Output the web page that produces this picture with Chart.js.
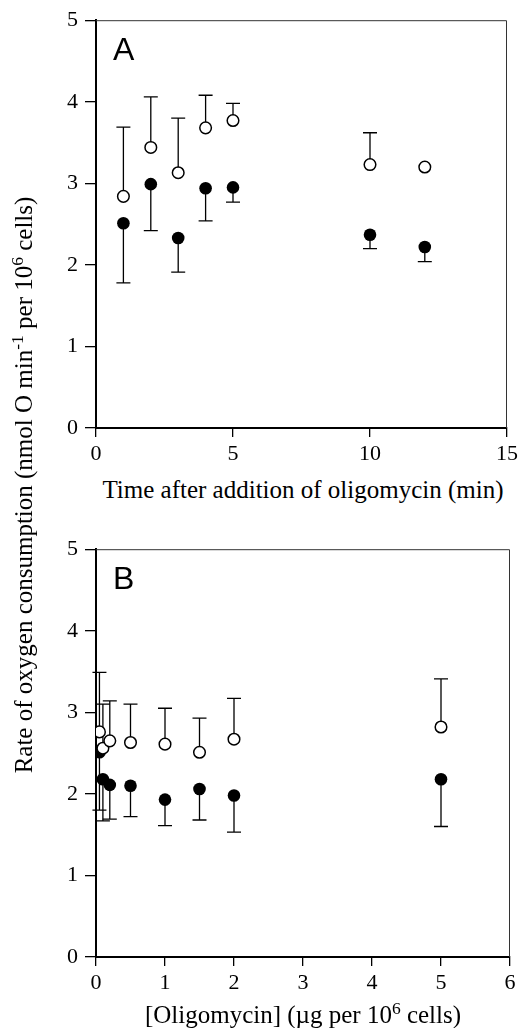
<!DOCTYPE html>
<html>
<head>
<meta charset="utf-8">
<script src="https://cdn.jsdelivr.net/npm/chart.js@4.4.1/dist/chart.umd.min.js"></script>
<style>
  body { margin: 0; background: #fff; }
  #fig { position: relative; width: 522px; height: 1028px; overflow: hidden; font-family: 'Liberation Serif', 'Times New Roman', serif; }
  .panel { position: absolute; left: 0; width: 522px; height: 470px; }
  .xtitle { position: absolute; left: 96px; width: 414px; text-align: center; font-size: 25px; line-height: 28px; white-space: nowrap; }
  .ytitle { position: absolute; left: -276px; top: 471px; width: 600px; height: 28px; line-height: 28px; text-align: center; font-size: 25px; white-space: nowrap; transform: rotate(-90deg); }
  sup { font-size: 0.7em; line-height: 0; }
</style>
</head>
<body>
<div id="fig">
  <div class="panel" style="top:0"><canvas id="chartA"></canvas></div>
  <div class="panel" style="top:529px"><canvas id="chartB"></canvas></div>
  <div class="xtitle" style="top:476px">Time after addition of oligomycin (min)</div>
  <div class="xtitle" style="top:1001px">[Oligomycin] (&micro;g per 10<sup>6</sup> cells)</div>
  <div class="ytitle">Rate of oxygen consumption (nmol O min<sup>-1</sup> per 10<sup>6</sup> cells)</div>
</div>
<script>
// Panel A: tiempo tras añadir oligomicina (min)
const tiempoA = [1, 2, 3, 4, 5, 10, 12];
const abiertosA = [2.84, 3.44, 3.13, 3.68, 3.77, 3.23, 3.20];
const abiertosA_sup = [3.69, 4.06, 3.80, 4.08, 3.98, 3.62, null];
const llenosA = [2.51, 2.99, 2.33, 2.94, 2.95, 2.37, 2.22];
const llenosA_inf = [1.78, 2.42, 1.91, 2.54, 2.77, 2.20, 2.04];
const ticksXA = [0, 5, 10, 15];

// Panel B: dosis de oligomicina (ug por 10^6 celulas)
const dosisB = [0.05, 0.1, 0.2, 0.5, 1, 1.5, 2, 5];
const abiertosB = [2.76, 2.56, 2.65, 2.63, 2.61, 2.51, 2.67, 2.82];
const abiertosB_sup = [3.49, 3.10, 3.14, 3.10, 3.05, 2.93, 3.17, 3.41];
const llenosB = [2.51, 2.18, 2.11, 2.10, 1.93, 2.06, 1.98, 2.18];
const llenosB_inf = [1.80, 1.67, 1.69, 1.72, 1.61, 1.68, 1.53, 1.60];
const ticksXB = [0, 1, 2, 3, 4, 5, 6];
const ticksY = [0, 1, 2, 3, 4, 5];

const serif = "'Liberation Serif', 'Times New Roman', serif";

function puntos(xs, ys) {
    return xs.map((x, i) => ({ x: x, y: ys[i] }));
}

// barras de error (solo hacia un lado) dibujadas antes de los puntos
const barrasError = {
    id: 'barrasError',
    beforeDatasetsDraw(chart, args, opts) {
        const { ctx, scales } = chart;
        ctx.save();
        ctx.strokeStyle = '#000';
        ctx.lineWidth = 1.3;
        opts.series.forEach(s => {
            s.x.forEach((xv, i) => {
                if (s.end[i] == null) return;
                const px = scales.x.getPixelForValue(xv);
                const p0 = scales.y.getPixelForValue(s.y[i]);
                const p1 = scales.y.getPixelForValue(s.end[i]);
                ctx.beginPath();
                ctx.moveTo(px, p0);
                ctx.lineTo(px, p1);
                ctx.moveTo(px - 7, p1);
                ctx.lineTo(px + 7, p1);
                ctx.stroke();
            });
        });
        ctx.restore();
    }
};

// marco superior/derecho y letra del panel
const marco = {
    id: 'marco',
    afterDraw(chart, args, opts) {
        const { ctx, chartArea: a } = chart;
        ctx.save();
        ctx.strokeStyle = '#333';
        ctx.lineWidth = 1;
        ctx.beginPath();
        ctx.moveTo(a.left, a.top + 0.5);
        ctx.lineTo(a.right - 0.5, a.top + 0.5);
        ctx.lineTo(a.right - 0.5, a.bottom);
        ctx.stroke();
        ctx.fillStyle = '#000';
        ctx.font = "32px 'Liberation Sans', Arial, sans-serif";
        ctx.textBaseline = 'alphabetic';
        ctx.fillText(opts.letra, a.left + 17, a.top + 40);
        ctx.restore();
    }
};

function configurar(xs, abiertos, supAb, llenos, infLl, ticksX, maxX, letra) {
    return {
        type: 'scatter',
        data: {
            datasets: [
                {
                    label: 'abiertos',
                    data: puntos(xs, abiertos),
                    pointStyle: 'circle',
                    pointRadius: 5.8,
                    pointBackgroundColor: '#fff',
                    pointBorderColor: '#000',
                    pointBorderWidth: 1.5
                },
                {
                    label: 'llenos',
                    data: puntos(xs, llenos),
                    pointStyle: 'circle',
                    pointRadius: 6.3,
                    pointBackgroundColor: '#000',
                    pointBorderColor: '#000',
                    pointBorderWidth: 0
                }
            ]
        },
        options: {
            responsive: true,
            maintainAspectRatio: false,
            animation: false,
            layout: { padding: { left: 0, right: 12, top: 14, bottom: 0 } },
            plugins: {
                legend: { display: false },
                tooltip: { enabled: false },
                barrasError: {
                    series: [
                        { x: xs, y: abiertos, end: supAb },
                        { x: xs, y: llenos, end: infLl }
                    ]
                },
                marco: { letra: letra }
            },
            scales: {
                x: {
                    type: 'linear',
                    min: 0,
                    max: maxX,
                    afterBuildTicks: s => { s.ticks = ticksX.map(v => ({ value: v })); },
                    afterFit: s => { s.height = 42; },
                    grid: { drawOnChartArea: false, drawTicks: true, tickLength: 9, color: '#000', lineWidth: 1.3 },
                    border: { display: true, color: '#000', width: 2 },
                    ticks: { color: '#000', padding: 4, font: { family: serif, size: 22 }, maxRotation: 0 }
                },
                y: {
                    type: 'linear',
                    min: 0,
                    max: 5,
                    afterBuildTicks: s => { s.ticks = ticksY.map(v => ({ value: v })); },
                    afterFit: s => { s.width = 96; },
                    grid: { drawOnChartArea: false, drawTicks: true, tickLength: 11, color: '#000', lineWidth: 1.3 },
                    border: { display: true, color: '#000', width: 2 },
                    ticks: { color: '#000', padding: 7, font: { family: serif, size: 22 } }
                }
            }
        },
        plugins: [barrasError, marco]
    };
}

new Chart(document.getElementById('chartA'),
    configurar(tiempoA, abiertosA, abiertosA_sup, llenosA, llenosA_inf, ticksXA, 15, 'A'));
new Chart(document.getElementById('chartB'),
    configurar(dosisB, abiertosB, abiertosB_sup, llenosB, llenosB_inf, ticksXB, 6, 'B'));
</script>
</body>
</html>
